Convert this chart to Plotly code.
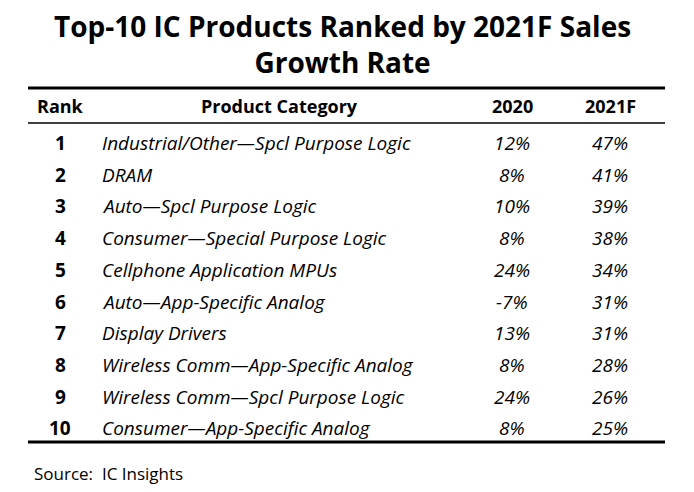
import plotly.graph_objects as go

title = "Top-10 IC Products Ranked by 2021F Sales<br>Growth Rate"
headers = ["Rank", "Product Category", "2020", "2021F"]
ranks = [1, 2, 3, 4, 5, 6, 7, 8, 9, 10]
products = [
    "Industrial/Other\u2014Spcl Purpose Logic",
    "DRAM",
    "Auto\u2014Spcl Purpose Logic",
    "Consumer\u2014Special Purpose Logic",
    "Cellphone Application MPUs",
    "Auto\u2014App-Specific Analog",
    "Display Drivers",
    "Wireless Comm\u2014App-Specific Analog",
    "Wireless Comm\u2014Spcl Purpose Logic",
    "Consumer\u2014App-Specific Analog",
]
g2020 = [12, 8, 10, 8, 24, -7, 13, 8, 24, 8]
g2021 = [47, 41, 39, 38, 34, 31, 31, 28, 26, 25]
source = "Source:  IC Insights"

FONT = "Open Sans, sans-serif"
W, H = 694, 492
PAD = 8  # page body margin
row_y0, row_dy = 143, 31.7
col_x = {"rank": 60, "prod": 100, "a": 512, "b": 610}

fig = go.Figure()
fig.update_layout(
    width=W - 2 * PAD, height=H - 2 * PAD, margin=dict(l=0, r=0, t=0, b=0),
    paper_bgcolor="white", plot_bgcolor="white",
    xaxis=dict(range=[PAD, W - PAD], visible=False, fixedrange=True),
    yaxis=dict(range=[H - PAD, PAD], visible=False, fixedrange=True),
    showlegend=False,
)

def txt(x, y, s, size=19, bold=False, italic=False, xanchor="center"):
    if bold:
        s = f"<b>{s}</b>"
    if italic:
        s = f"<i>{s}</i>"
    fig.add_annotation(x=x, y=y, text=s, showarrow=False, xanchor=xanchor,
                       yanchor="middle", font=dict(family=FONT, size=size, color="black"))

txt(342, 44, title, size=28, bold=True)

for h, x in zip(headers, [60, 279, 512, 610]):
    txt(x, 106, h, size=18, bold=True)

for i, (r, p, a, b) in enumerate(zip(ranks, products, g2020, g2021)):
    y = row_y0 + i * row_dy
    txt(col_x["rank"], y, str(r), bold=True)
    txt(col_x["prod"], y, p, italic=True, xanchor="left")
    txt(col_x["a"], y, f"{a}%", italic=True)
    txt(col_x["b"], y, f"{b}%", italic=True)

for y, w in [(88, 3), (123, 1.5), (442, 3)]:
    fig.add_shape(type="line", x0=28, x1=665, y0=y, y1=y, line=dict(color="black", width=w))

txt(32, 473, source, size=17, xanchor="left")

fig.write_html("out.html")
